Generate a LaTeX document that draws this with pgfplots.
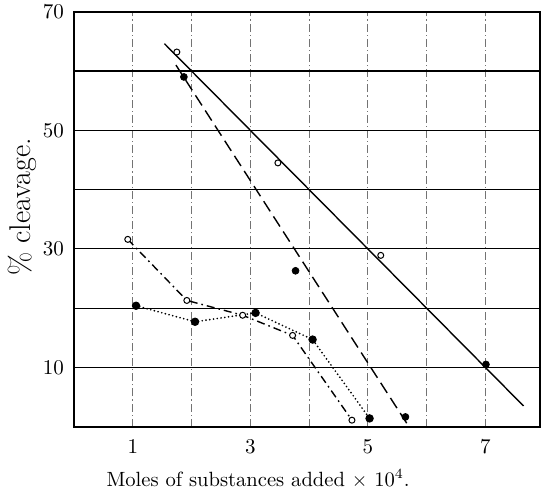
\documentclass[border=0pt]{standalone}
\usepackage{pgfplots}
\pgfplotsset{compat=1.18}

\begin{document}
\begin{tikzpicture}
\begin{axis}[
    scale only axis,
    width=233pt, height=207.5pt,
    xmin=0, xmax=7.93,
    ymin=0, ymax=70,
    xtick={1,2,3,4,5,6,7},
    xticklabels={1,,3,,5,,7},
    ytick={10,20,30,40,50,60,70},
    yticklabels={10,,30,,50,,70},
    major tick length=0pt,
    grid=major,
    x grid style={black!55, line width=0.35pt, dash pattern=on 4pt off 1.5pt on 0.6pt off 1.5pt},
    y grid style={black, line width=0.55pt},
    axis line style={black, line width=0.8pt},
    tick label style={font=\fontsize{10.5}{12}\selectfont},
    xticklabel style={yshift=-3pt},
    yticklabel style={xshift=-1.5pt},
    every axis x label/.style={at={(axis description cs:0.395,0)}, yshift=-26pt, anchor=center,
        font=\fontsize{10.3}{12}\selectfont},
    every axis y label/.style={at={(axis description cs:0,0.53)}, xshift=-26pt, rotate=90, anchor=center,
        font=\fontsize{15}{17}\selectfont},
    xlabel={Moles of substances added $\times$ 10$^4$.},
    ylabel={\% cleavage.},
    clip=false,
]
% solid line, open circles
\addplot[black, line width=0.7pt] coordinates {(1.54,64.6) (7.65,3.5)};
\addplot[only marks, mark=*, mark size=1.5pt, mark options={fill=white, draw=black, line width=0.5pt}]
    coordinates {(1.75,63.2) (3.47,44.5) (5.22,28.9)};
\addplot[only marks, mark=*, mark size=1.7pt, black] coordinates {(7.01,10.5)};

% dashed line, filled circles
\addplot[black, line width=0.7pt, dash pattern=on 6pt off 3pt] coordinates {(1.735,61) (5.70,0)};
\addplot[only marks, mark=*, mark size=1.7pt, black]
    coordinates {(1.87,59.0) (3.77,26.3) (5.64,1.65)};

% dash-dot line, open circles
\addplot[black, line width=0.7pt, dash pattern=on 4pt off 2pt on 0.8pt off 2pt,
    mark=*, mark size=1.5pt, mark options={solid, fill=white, draw=black, line width=0.5pt}]
    coordinates {(0.915,31.6) (1.92,21.3) (2.87,18.8) (3.72,15.4) (4.73,1.1)};

% dotted line, filled circles
\addplot[black, line width=0.95pt, line cap=round, dash pattern=on 0pt off 1.9pt,
    mark=*, mark size=1.6pt, mark options={solid, fill=black}]
    coordinates {(1.056,20.4) (2.06,17.7) (3.09,19.2) (4.06,14.7) (5.03,1.4)};
\end{axis}
\pgfresetboundingbox
\path (-37pt,-31.25pt) rectangle (234.5pt,213.35pt);
\end{tikzpicture}
\end{document}
